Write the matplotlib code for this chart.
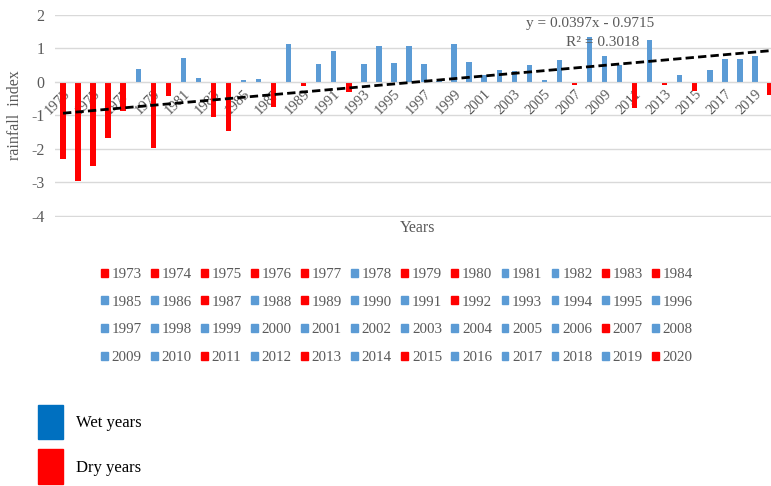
import matplotlib.pyplot as plt
from matplotlib.patches import Patch

plt.rcParams['font.family'] = ['Liberation Serif', 'DejaVu Serif']
plt.rcParams['axes.unicode_minus'] = False

# 年份与降水指数
years = list(range(1973, 2021))
rain_index = [-2.3, -2.95, -2.5, -1.66, -0.86, 0.38, -1.98, -0.42, 0.73, 0.13,
              -1.03, -1.46, 0.05, 0.09, -0.75, 1.14, -0.13, 0.54, 0.93, -0.29,
              0.53, 1.06, 0.58, 1.06, 0.54, 0.03, 1.14, 0.61, 0.2, 0.37,
              0.33, 0.5, 0.07, 0.67, -0.1, 1.34, 0.77, 0.5, -0.79, 1.26,
              -0.08, 0.22, -0.26, 0.35, 0.7, 0.7, 0.78, -0.39]
slope = 0.0397
intercept = -0.9715
r2 = 0.3018

wet_color = '#5B9BD5'
dry_color = '#FF0000'
gray = '#595959'

idx = list(range(1, len(years) + 1))
colors = [wet_color if v >= 0 else dry_color for v in rain_index]

fig = plt.figure(figsize=(7.71, 4.86), dpi=100)
W, H = 771, 486
ax = fig.add_axes([55.5 / W, 1 - 216.5 / H, 722 / W, 201.5 / H])
ax.set_axisbelow(True)

ax.bar(idx, rain_index, width=0.36, color=colors, zorder=2)

# 趋势线
trend = [slope * i + intercept for i in idx]
ax.plot(idx, trend, color='black', lw=2, linestyle=(0, (3, 1.5)), zorder=3)
fig.text(590 / W, 1 - 23 / H, f'y = {slope}x - {abs(intercept)}',
         ha='center', va='center', fontsize=11, color=gray)
fig.text(603 / W, 1 - 43 / H, f'R² = {r2}',
         ha='center', va='center', fontsize=11, color=gray)

ax.set_xlim(0.5, len(years) + 0.5)
ax.set_ylim(-4.015, 2)
ax.set_yticks(range(-4, 3))
ax.yaxis.grid(True, color='#D9D9D9', lw=1, zorder=0)
for s in ['top', 'right', 'left']:
    ax.spines[s].set_visible(False)
ax.spines['bottom'].set_position(('data', 0))
ax.spines['bottom'].set_color('#D9D9D9')
ax.set_xticks(idx[::2])
ax.set_xticklabels([str(y) for y in years[::2]], rotation=45, ha='right',
                   va='top', rotation_mode='anchor', fontsize=10.5, color=gray)
ax.tick_params(axis='both', length=0)
ax.tick_params(axis='y', labelsize=11.5, labelcolor=gray, pad=8)
ax.tick_params(axis='x', pad=4)

fig.text(418 / W, 1 - 228 / H, 'Years', ha='center', va='center', fontsize=11.5, color=gray)
fig.text(15 / W, 1 - 115 / H, 'rainfall  index', ha='center', va='center', rotation=90,
         fontsize=11.5, color=gray)

# 每年的图例（按行排列）
ncol = 12
nrow = len(years) // ncol
handles = [Patch(color=c, label=str(y)) for y, c in zip(years, colors)]
handles = [handles[r * ncol + c] for c in range(ncol) for r in range(nrow)]
fig.legend(handles=handles, ncol=ncol, loc='upper left', bbox_to_anchor=(101 / W, 1 - 268 / H),
           frameon=False, fontsize=10.8, handlelength=0.45, handleheight=0.45,
           handletextpad=0.25, columnspacing=0.62, labelspacing=0.98, labelcolor=gray,
           borderpad=0, borderaxespad=0)

# 干湿年图例
leg2 = [Patch(color='#0070C0', label='Wet years'), Patch(color=dry_color, label='Dry years')]
fig.legend(handles=leg2, loc='upper left', bbox_to_anchor=(38 / W, 1 - 405 / H),
           frameon=False, fontsize=12, handlelength=1.5, handleheight=2.8,
           handletextpad=0.8, labelspacing=0.6, borderpad=0, borderaxespad=0)

fig.savefig('out.png', dpi=100)
